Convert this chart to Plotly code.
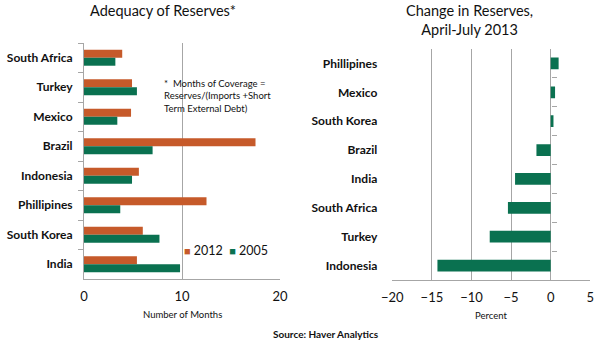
import plotly.graph_objects as go

# Left chart: Adequacy of Reserves (months of coverage)
countries_left = ["South Africa", "Turkey", "Mexico", "Brazil", "Indonesia",
                  "Phillipines", "South Korea", "India"]
months_2012 = [3.9, 4.9, 4.8, 17.5, 5.6, 12.5, 6.0, 5.4]
months_2005 = [3.2, 5.4, 3.4, 7.0, 4.9, 3.7, 7.7, 9.8]
series_names = ["2012", "2005"]

# Right chart: Change in Reserves, April-July 2013 (percent)
countries_right = ["Phillipines", "Mexico", "South Korea", "Brazil", "India",
                   "South Africa", "Turkey", "Indonesia"]
change_pct = [1.0, 0.55, 0.35, -1.8, -4.5, -5.4, -7.7, -14.3]

ORANGE = "#C65A2A"
GREEN = "#0A7150"
GRID = "#A6A6A6"
AXIS = "#A6A6A6"
TXT = "#111111"
FONT = "Lato"

W, H = 600, 340
def px(x):
    return x / W
def py(y):
    return 1 - y / H

fig = go.Figure()

fig.add_trace(go.Bar(name=series_names[0], y=countries_left, x=months_2012, orientation="h",
                     marker=dict(color=ORANGE, line=dict(width=0)),
                     xaxis="x", yaxis="y"))
fig.add_trace(go.Bar(name=series_names[1], y=countries_left, x=months_2005, orientation="h",
                     marker=dict(color=GREEN, line=dict(width=0)),
                     xaxis="x", yaxis="y"))
fig.add_trace(go.Bar(name="Change", y=countries_right, x=change_pct, orientation="h",
                     width=0.41,
                     marker=dict(color=GREEN, line=dict(width=0)),
                     xaxis="x2", yaxis="y2"))

left_dom_x = [px(84), px(280)]
left_dom_y = [py(279), py(43)]
right_dom_x = [px(392.3), px(590.3)]
right_dom_y = [py(280), py(49)]

tickfont = dict(family=FONT, size=13, color=TXT)
catfont = dict(family=FONT, size=12, color=TXT, weight="bold")

fig.update_layout(
    template="none",
    width=W, height=H,
    margin=dict(l=0, r=0, t=0, b=0, pad=0),
    paper_bgcolor="white", plot_bgcolor="white",
    barmode="group", bargap=0.46, bargroupgap=0,
    font=dict(family=FONT, color=TXT),
    showlegend=False,
    xaxis=dict(domain=left_dom_x, anchor="y", range=[0, 20], tickvals=[0, 10, 20],
               showgrid=True, gridcolor=GRID, gridwidth=1, zeroline=False,
               showline=True, linecolor=AXIS, ticks="", tickfont=tickfont,
               ticklabelstandoff=5, automargin=False),
    yaxis=dict(domain=left_dom_y, anchor="x", autorange="reversed", type="category",
               showline=True, linecolor=AXIS, ticks="outside", tickson="boundaries",
               ticklen=5, tickcolor=AXIS, tickfont=catfont, showgrid=False,
               ticklabelstandoff=8, automargin=False),
    xaxis2=dict(domain=right_dom_x, anchor="y2", range=[-20, 5], dtick=5,
                showgrid=True, gridcolor=GRID, gridwidth=1, zeroline=True,
                zerolinecolor=AXIS, zerolinewidth=1,
                showline=True, linecolor=AXIS, ticks="", tickfont=tickfont,
                ticklabelstandoff=5, automargin=False),
    yaxis2=dict(domain=right_dom_y, anchor="x2", autorange="reversed", type="category",
                showline=False, ticks="", tickfont=catfont, showgrid=False,
                ticklabelstandoff=14, automargin=False),
    yaxis3=dict(overlaying="y2", anchor="free",
                position=right_dom_x[0] + (right_dom_x[1] - right_dom_x[0]) * 20 / 25,
                range=[len(countries_right) - 0.5, -0.5],
                tickvals=[i - 0.5 for i in range(len(countries_right) + 1)],
                showticklabels=False, ticks="inside", ticklen=5, tickcolor=AXIS,
                showline=False, showgrid=False, zeroline=False, automargin=False),
)

# invisible trace to activate yaxis3
fig.add_trace(go.Scatter(x=[None], y=[None], xaxis="x2", yaxis="y3",
                         showlegend=False, hoverinfo="skip"))

ann = [
    dict(text="Adequacy of Reserves*", x=px(163), y=py(11), size=14.5),
    dict(text="Change in Reserves,<br>April-July 2013", x=px(469), y=py(20), size=14.5),
    dict(text="Number of Months", x=px(182), y=py(314), size=9.5),
    dict(text="Percent", x=px(491), y=py(315), size=9.5),
    dict(text="<b>Source: Haver Analytics</b>", x=px(326), y=py(334), size=10),
]
for a in ann:
    fig.add_annotation(text=a["text"], x=a["x"], y=a["y"], xref="paper", yref="paper",
                       xanchor="center", yanchor="middle", showarrow=False,
                       font=dict(family=FONT, size=a["size"], color=TXT))

fig.add_annotation(
    text="*  Months of Coverage =<br>Reserves/(Imports +Short<br>Term External Debt)",
    x=px(162), y=py(76), xref="paper", yref="paper", xanchor="left", yanchor="top",
    align="left", showarrow=False, font=dict(family=FONT, size=9.5, color=TXT))

# legend (drawn as text, colours match the bar series)
legend_text = (f"<span style='color:{ORANGE};font-size:11px'>■</span> {series_names[0]}"
               f"  <span style='color:{GREEN};font-size:11px'>■</span> {series_names[1]}")
fig.add_annotation(text=legend_text, x=px(182), y=py(250), xref="paper", yref="paper",
                   xanchor="left", yanchor="middle", showarrow=False,
                   font=dict(family=FONT, size=12.5, color=TXT))

fig.write_html("out.html")
